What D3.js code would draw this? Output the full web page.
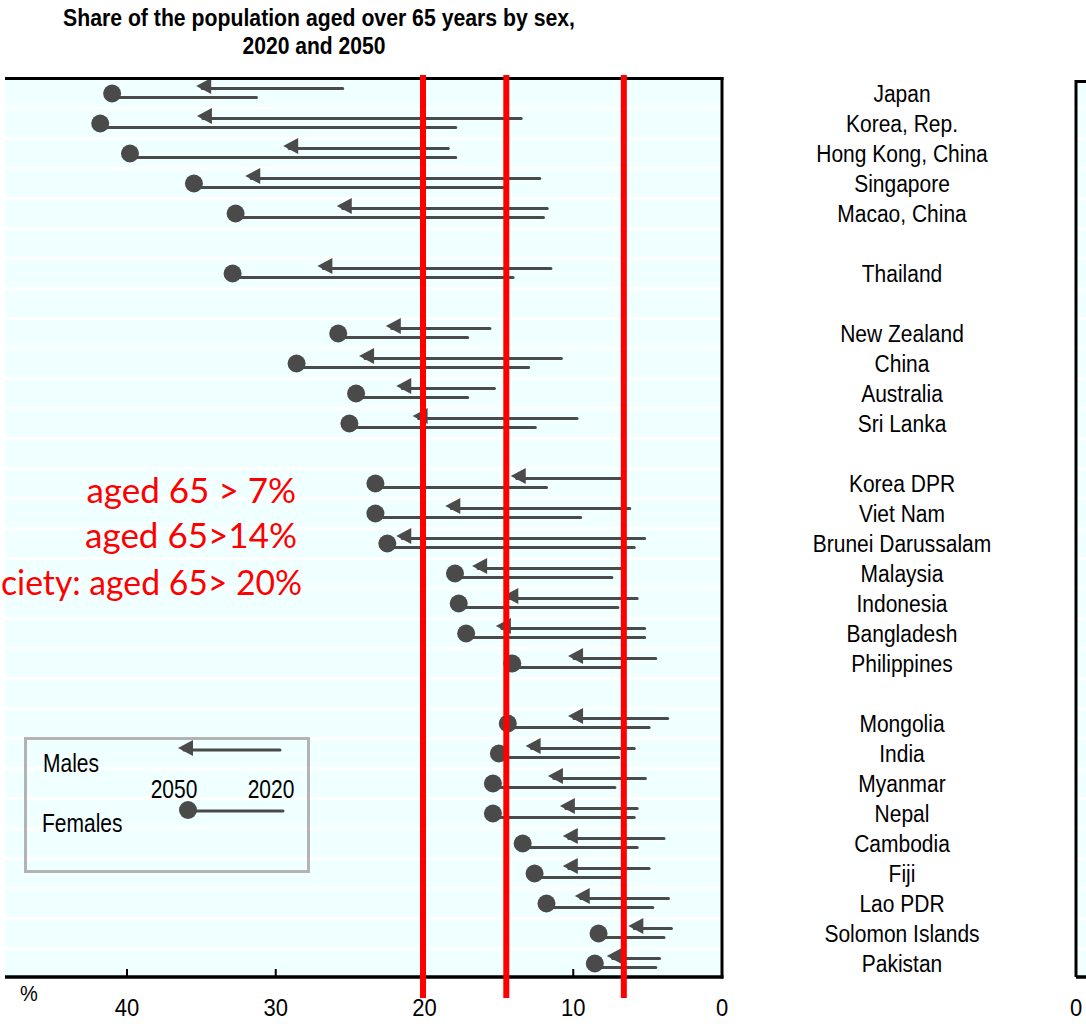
<!DOCTYPE html>
<html><head><meta charset="utf-8">
<script src="https://cdn.jsdelivr.net/npm/d3@7"></script>
<style>body{margin:0;background:#fff}</style>
</head><body>
<script>
// ---- data (blank strings = spacer rows) ----
const countries = ["Japan","Korea, Rep.","Hong Kong, China","Singapore","Macao, China","","Thailand","",
  "New Zealand","China","Australia","Sri Lanka","",
  "Korea DPR","Viet Nam","Brunei Darussalam","Malaysia","Indonesia","Bangladesh","Philippines","",
  "Mongolia","India","Myanmar","Nepal","Cambodia","Fiji","Lao PDR","Solomon Islands","Pakistan"];
const male2020   = [25.5,13.5,18.4,12.25,11.75,null,11.5,null, 15.6,10.8,15.3,9.75,null, 6.75,6.2,5.2,6.75,5.7,5.2,4.45,null, 3.65,5.9,5.15,5.7,3.9,4.9,3.6,3.4,4.2];
const male2050   = [35.35,35.3,29.5,32.05,25.9,null,27.2,null, 22.6,24.4,21.9,20.8,null, 14.2,18.6,21.9,16.8,14.7,15.2,10.35,null, 10.35,13.2,11.7,10.9,10.7,10.7,9.9,6.3,7.75];
const female2020 = [31.3,17.9,17.9,14.7,12.0,null,14.05,null, 17.1,13.0,17.1,12.55,null, 11.8,9.5,5.9,7.4,7.0,5.2,6.7,null, 4.9,6.95,7.2,5.9,5.7,6.75,4.65,3.9,4.45];
const female2050 = [41.0,41.8,39.8,35.5,32.7,null,32.9,null, 25.8,28.6,24.6,25.05,null, 23.3,23.3,22.5,17.95,17.7,17.2,14.1,null, 14.4,15.0,15.4,15.4,13.4,12.6,11.8,8.3,8.55];
const thresholds = [20.1, 14.5, 6.6];
const thresholdLabels = ["aged 65 > 7%", "aged 65>14%", "ciety: aged 65> 20%"];
const xTicks = [40, 30, 20, 10, 0];
const titleLines = ["Share of the population aged over 65 years by sex,", "2020 and 2050"];
const legendLabels = ["Males", "Females", "2050", "2020"];

// ---- layout ----
const W = 1086, H = 1024;
const L = 5, R = 722, T = 77, B = 977;
const ink = "#4a4a4a";
const bg = "#f0ffff";
const font = "'Liberation Sans', Arial, sans-serif";

const svg = d3.select("body").append("svg").attr("width", W).attr("height", H);

const x = d3.scaleLinear().domain([0, 40]).range([R, 127]);
const y = d3.scaleBand().domain(d3.range(countries.length)).range([T, B]);
const idx = d3.range(countries.length).filter(i => countries[i] !== "");

function txt(s, px, py, o = {}) {
  return svg.append("text")
    .attr("transform", `translate(${px},${py}) scale(${o.sx || 1},${o.sy || 1})`)
    .attr("text-anchor", o.anchor || "start")
    .attr("font-family", o.family || font)
    .attr("font-size", o.size || 21)
    .attr("font-weight", o.weight || "normal")
    .attr("fill", o.fill || "#000")
    .text(s);
}

// background + stripes
svg.append("rect").attr("x", L).attr("y", T).attr("width", R - L).attr("height", B - T).attr("fill", bg);
svg.append("g").selectAll("rect").data(d3.range(countries.length - 1)).join("rect")
  .attr("x", L).attr("width", R - L)
  .attr("y", i => y(i) + 30).attr("height", 3).attr("fill", "#fff");

// triangle (arrow head) path with tip at (tx, ty)
const tri = (tx, ty) => `M${tx},${ty} L${tx + 15},${ty - 8} L${tx + 15},${ty + 8} Z`;

const g = svg.append("g");
g.selectAll(".ml").data(idx).join("line")
  .attr("x1", i => x(male2020[i])).attr("x2", i => x(male2050[i]) + 6)
  .attr("y1", i => y(i) + 11.5).attr("y2", i => y(i) + 11.5)
  .attr("stroke", ink).attr("stroke-width", 3).attr("stroke-linecap", "round");
g.selectAll(".fl").data(idx).join("line")
  .attr("x1", i => x(female2020[i])).attr("x2", i => x(female2050[i]))
  .attr("y1", i => y(i) + 20.5).attr("y2", i => y(i) + 20.5)
  .attr("stroke", ink).attr("stroke-width", 3).attr("stroke-linecap", "round");
g.selectAll(".ar").data(idx).join("path")
  .attr("d", i => tri(x(male2050[i]), y(i) + 9))
  .attr("fill", ink);
g.selectAll(".dt").data(idx).join("circle")
  .attr("cx", i => x(female2050[i])).attr("cy", i => y(i) + 16.5).attr("r", 9)
  .attr("fill", ink);

// frame
svg.append("line").attr("x1", L).attr("x2", R + 1.5).attr("y1", T + 1.5).attr("y2", T + 1.5).attr("stroke", "#000").attr("stroke-width", 3);
svg.append("line").attr("x1", R).attr("x2", R).attr("y1", T).attr("y2", B + 1.5).attr("stroke", "#000").attr("stroke-width", 3);
svg.append("line").attr("x1", L).attr("x2", R + 1.5).attr("y1", B).attr("y2", B).attr("stroke", "#000").attr("stroke-width", 3.5);

// ticks + labels
svg.append("g").selectAll("line").data(xTicks).join("line")
  .attr("x1", d => x(d)).attr("x2", d => x(d)).attr("y1", B).attr("y2", B - 8)
  .attr("stroke", "#000").attr("stroke-width", 2);
xTicks.forEach(d => txt(String(d), x(d), 1016, { anchor: "middle", size: 22, sy: 1.1 }));
txt("%", 29, 1001, { anchor: "middle", size: 20, sy: 1.1 });

// threshold lines
svg.append("g").selectAll("line").data(thresholds).join("line")
  .attr("x1", d => x(d)).attr("x2", d => x(d)).attr("y1", 75).attr("y2", 998)
  .attr("stroke", "#ff0000").attr("stroke-width", 6);

// threshold annotations
const annFam = "Lato, 'Open Sans', sans-serif";
txt(thresholdLabels[0], 296, 503, { anchor: "end", size: 35, family: annFam, fill: "#ff0000" });
txt(thresholdLabels[1], 297, 548, { anchor: "end", size: 35, family: annFam, fill: "#ff0000" });
txt(thresholdLabels[2], 1, 595, { anchor: "start", size: 35, family: annFam, fill: "#ff0000" })
  .attr("textLength", 301).attr("lengthAdjust", "spacingAndGlyphs");

// legend
svg.append("rect").attr("x", 25.5).attr("y", 738.5).attr("width", 283).attr("height", 133)
  .attr("fill", "none").attr("stroke", "#b3b3b3").attr("stroke-width", 3);
svg.append("line").attr("x1", 280).attr("x2", 184).attr("y1", 750).attr("y2", 750).attr("stroke", ink).attr("stroke-width", 3).attr("stroke-linecap", "round");
svg.append("path").attr("d", tri(178, 748)).attr("fill", ink);
svg.append("line").attr("x1", 283).attr("x2", 188).attr("y1", 811).attr("y2", 811).attr("stroke", ink).attr("stroke-width", 3).attr("stroke-linecap", "round");
svg.append("circle").attr("cx", 188).attr("cy", 810).attr("r", 9).attr("fill", ink);
txt(legendLabels[0], 43, 772, { size: 21, sy: 1.2 });
txt(legendLabels[1], 42, 832, { size: 21, sy: 1.2 });
txt(legendLabels[2], 174, 798, { anchor: "middle", size: 21, sy: 1.2 });
txt(legendLabels[3], 271, 798, { anchor: "middle", size: 21, sy: 1.2 });

// country labels
idx.forEach(i => txt(countries[i], 902, y(i) + 25, { anchor: "middle", size: 21, sy: 1.1 }));

// title
txt(titleLines[0], 319, 26, { anchor: "middle", size: 20, weight: "bold", sy: 1.15 }).attr("textLength", 512).attr("lengthAdjust", "spacingAndGlyphs");
txt(titleLines[1], 314, 54, { anchor: "middle", size: 20, weight: "bold", sy: 1.15 }).attr("textLength", 143).attr("lengthAdjust", "spacingAndGlyphs");

// right panel (partially visible)
svg.append("rect").attr("x", 1076).attr("y", 81).attr("width", 30).attr("height", B - 81).attr("fill", bg);
svg.append("g").selectAll("rect").data(d3.range(countries.length - 1)).join("rect")
  .attr("x", 1076).attr("width", 30).attr("y", i => y(i) + 30).attr("height", 3).attr("fill", "#fff");
svg.append("path").attr("d", `M1076,${B} L1076,81.5 L1090,81.5`).attr("fill", "none").attr("stroke", "#000").attr("stroke-width", 3);
svg.append("line").attr("x1", 1076).attr("x2", 1090).attr("y1", B).attr("y2", B).attr("stroke", "#000").attr("stroke-width", 3.5);
txt("0", 1076, 1016, { anchor: "middle", size: 22, sy: 1.1 });
</script>
</body></html>
